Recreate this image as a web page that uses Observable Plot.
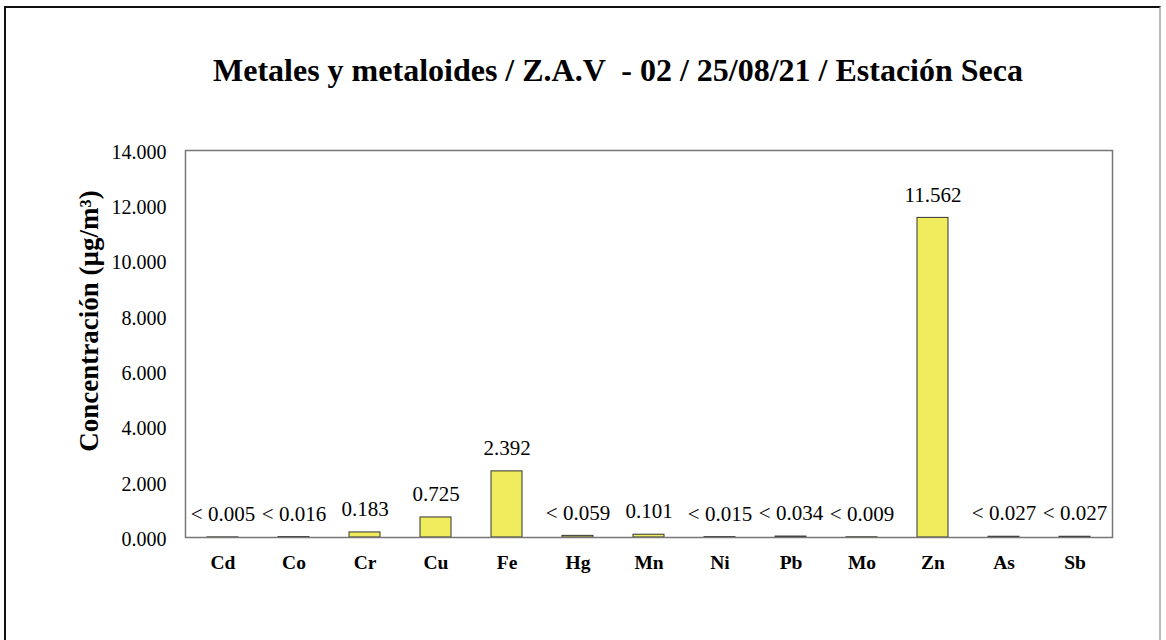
<!DOCTYPE html>
<html>
<head>
<meta charset="utf-8">
<script src="https://cdn.jsdelivr.net/npm/d3@7"></script>
<script src="https://cdn.jsdelivr.net/npm/@observablehq/plot@0.6"></script>
<style>
  html, body { margin: 0; padding: 0; background: #fff; }
  #wrap { position: relative; width: 1166px; height: 640px; overflow: hidden; font-family: "Liberation Serif", "Times New Roman", serif; }
  #border { position: absolute; left: 4px; top: 6px; width: 1157px; height: 700px; border-left: 2px solid #111; border-top: 2px solid #111; border-right: 2px solid #bbb; box-sizing: border-box; }
  #title { position: absolute; left: 213px; top: 50px; font-size: 32px; font-weight: bold; color: #000; white-space: pre; line-height: 40px; }
  #chart { position: absolute; left: 0; top: 100px; }
</style>
</head>
<body>
<div id="wrap">
  <div id="border"></div>
  <div id="title">Metales y metaloides / Z.A.V  - 02 / 25/08/21 / Estación Seca</div>
  <div id="chart"></div>
</div>
<script>
const elements = ["Cd", "Co", "Cr", "Cu", "Fe", "Hg", "Mn", "Ni", "Pb", "Mo", "Zn", "As", "Sb"];
const values = [0.005, 0.016, 0.183, 0.725, 2.392, 0.059, 0.101, 0.015, 0.034, 0.009, 11.562, 0.027, 0.027];
const belowLimit = [true, true, false, false, false, true, false, true, true, true, false, true, true];
const yTicks = [0, 2, 4, 6, 8, 10, 12, 14];
const yTitle = "Concentración (µg/m³)";

const data = elements.map((e, i) => ({
  element: e,
  value: values[i],
  label: (belowLimit[i] ? "< " : "") + d3.format(".3f")(values[i])
}));

const chart = Plot.plot({
  width: 1166,
  height: 540,
  marginLeft: 185,
  marginRight: 54,
  marginTop: 50,
  marginBottom: 103,
  style: { fontFamily: "'Liberation Serif', 'Times New Roman', serif", background: "transparent", color: "#000" },
  x: { domain: elements, paddingInner: 0.565, paddingOuter: 0.2825, label: null },
  y: { domain: [0, 14], label: null },
  marks: [
    Plot.axisY({ ticks: yTicks, tickFormat: d3.format(".3f"), tickSize: 0, tickPadding: 19, dy: 2, fontSize: 20, label: null }),
    Plot.axisX({ tickSize: 0, tickPadding: 18, fontSize: 19.5, fontWeight: "bold", label: null }),
    Plot.barY(data, { x: "element", y: "value", fill: "#efec5e", stroke: "#333", strokeWidth: 1 }),
    Plot.text(data, { x: "element", y: "value", text: "label", dy: -23, fontSize: 21, fill: "#000" }),
    Plot.frame({ stroke: "#777", strokeWidth: 1.5 }),
    Plot.text([yTitle], { frameAnchor: "left", textAnchor: "middle", lineAnchor: "middle", dx: -96, dy: -23, rotate: -90, text: d => d, fontSize: 27, fontWeight: "bold", fill: "#000" })
  ]
});
document.getElementById("chart").appendChild(chart);
</script>
</body>
</html>
